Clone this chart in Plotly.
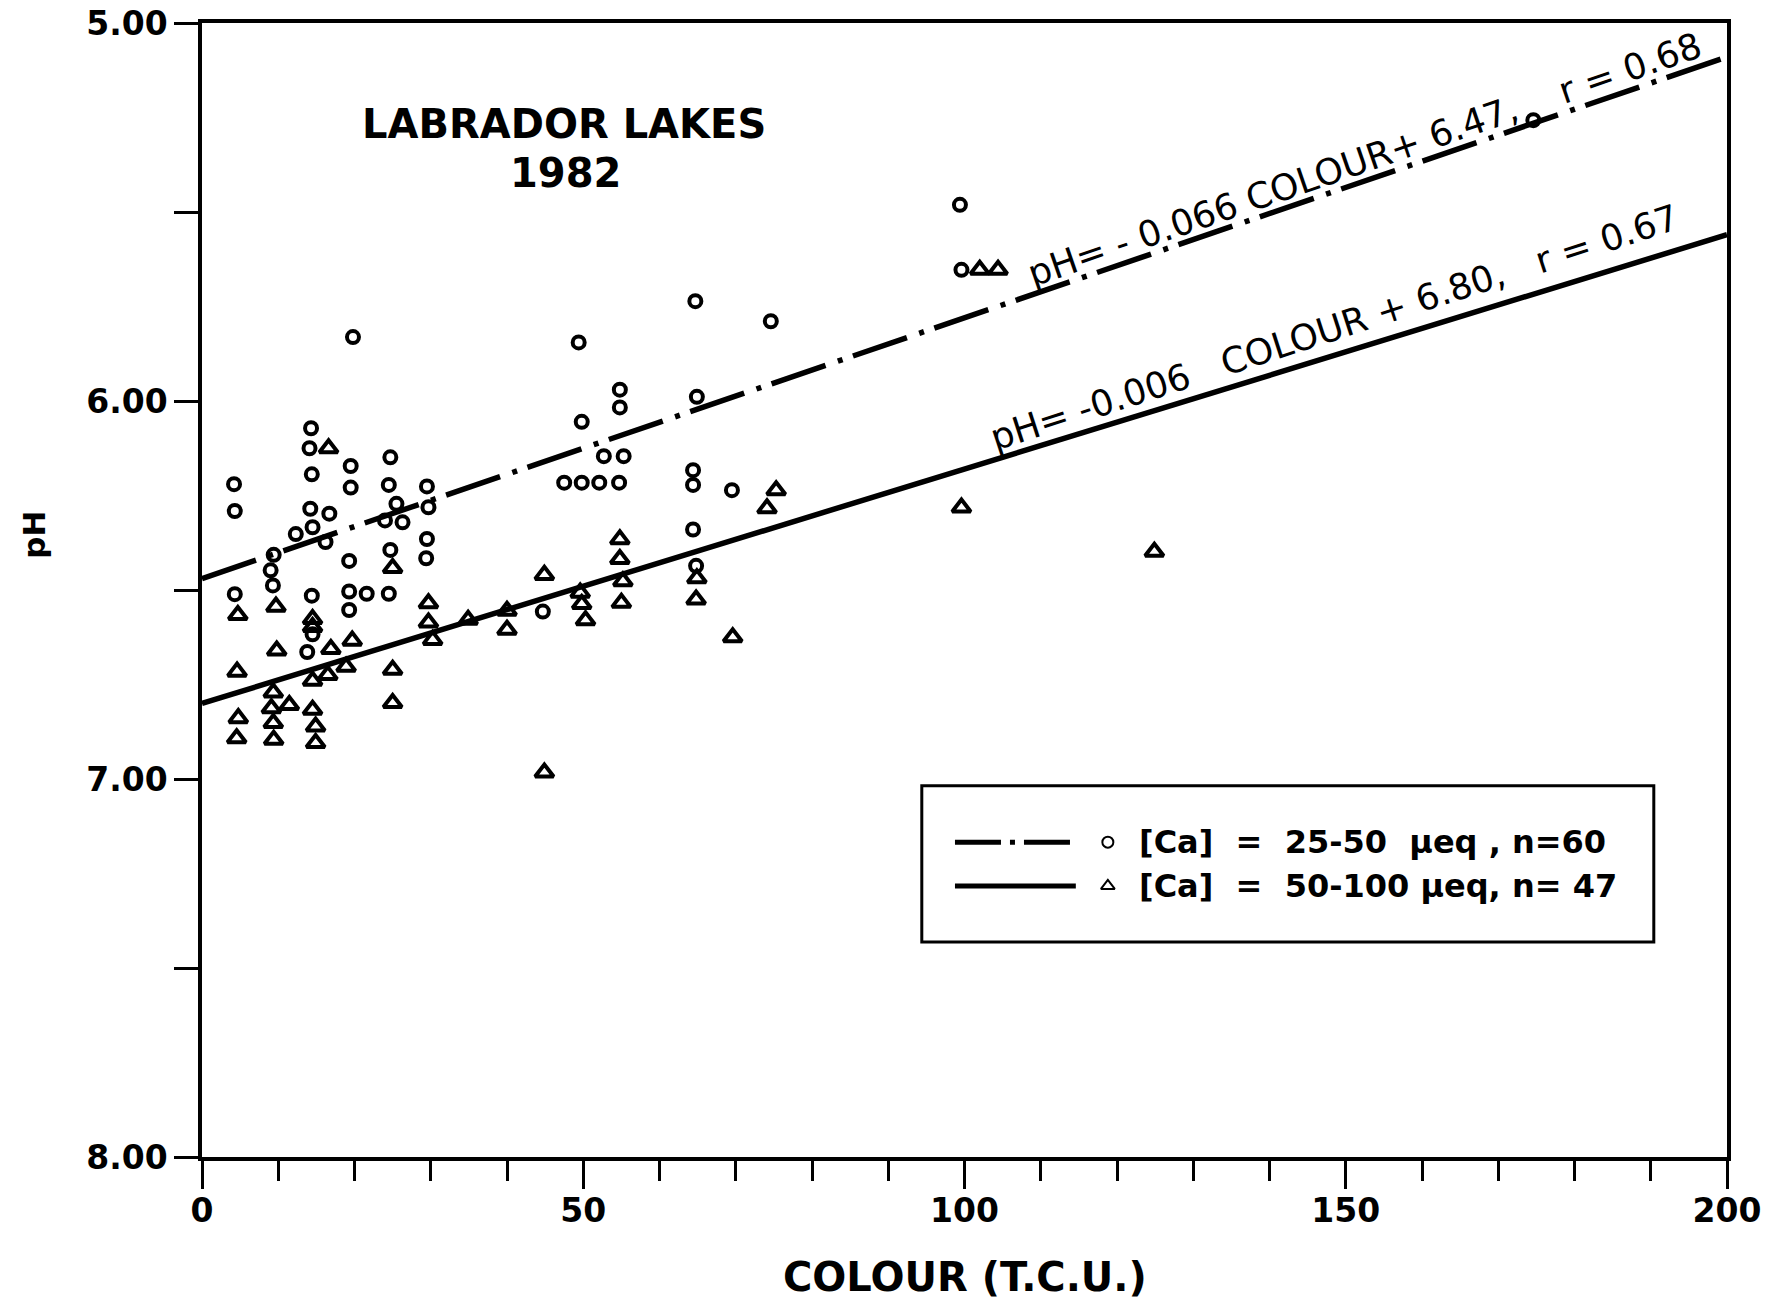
import plotly.graph_objects as go

# ---- Lakes with [Ca] = 25-50 ueq (open circles) ----
ca_low_colour = [
    4.2, 4.3, 4.3,
    9.4, 9.0, 9.3,
    12.3,
    14.3, 14.1, 14.4, 14.2, 14.5, 14.4, 14.5, 13.8,
    16.7, 16.2,
    19.8, 19.5, 19.5, 19.3, 19.3, 19.3,
    21.6,
    24.7, 24.5, 24.0, 24.7, 24.5,
    25.5, 26.3,
    29.5, 29.7, 29.5, 29.4,
    44.7,
    47.5, 49.8, 52.1, 54.7,
    52.7, 55.3,
    49.8, 54.8, 54.8, 49.4,
    64.7, 64.9, 64.4, 64.4, 64.4, 64.8,
    69.5, 74.6,
    99.4, 99.6, 174.6,
]
ca_low_ph = [
    6.220, 6.291, 6.511,
    6.407, 6.448, 6.488,
    6.352,
    6.072, 6.125, 6.194, 6.285, 6.334, 6.515, 6.617, 6.664,
    6.298, 6.373,
    5.831, 6.172, 6.229, 6.423, 6.504, 6.553,
    6.510,
    6.149, 6.222, 6.316, 6.394, 6.510,
    6.272, 6.321,
    6.226, 6.281, 6.365, 6.416,
    6.557,
    6.216, 6.216, 6.216, 6.216,
    6.146, 6.146,
    6.055, 5.970, 6.017, 5.845,
    5.736, 5.989, 6.183, 6.222, 6.340, 6.436,
    6.236, 5.789,
    5.481, 5.653, 5.257,
]

# ---- Lakes with [Ca] = 50-100 ueq (open triangles) ----
ca_high_colour = [
    16.6, 4.7, 9.7, 25.0, 9.8, 4.6, 14.5, 14.5, 16.9, 19.7,
    18.9, 16.5, 14.5, 25.0, 25.0, 29.7, 29.7, 30.25, 9.35, 9.1,
    11.45, 9.35, 9.4, 4.76, 4.55, 14.5, 14.9, 14.9, 34.9, 40.0,
    40.0, 44.9, 44.9, 49.6, 49.8, 50.3, 54.8, 54.8, 55.2, 55.0,
    75.3, 74.1, 99.6, 64.9, 64.8, 69.6, 102.0, 104.4, 124.9,
]
ca_high_ph = [
    6.125, 6.566, 6.544, 6.442, 6.660, 6.716, 6.577, 6.598, 6.656, 6.634,
    6.703, 6.725, 6.740, 6.711, 6.799, 6.535, 6.586, 6.632, 6.771, 6.813,
    6.804, 6.852, 6.896, 6.839, 6.892, 6.817, 6.861, 6.905, 6.579, 6.555,
    6.605, 6.460, 6.983, 6.507, 6.537, 6.580, 6.366, 6.418, 6.477, 6.534,
    6.236, 6.284, 6.282, 6.469, 6.525, 6.625, 5.653, 5.653, 6.399,
]

# ---- Regression lines: pH = intercept + slope * colour ----
fit_intercepts = [6.47, 6.80]
fit_slopes = [-0.0069, -0.0062]
fit_x = [0, 200]
fit_dash = ["57px,13px,5px,11px", "solid"]
fit_labels = [
    "pH=\u00a0-\u00a00.066 COLOUR+\u00a06.47,\u00a0\u00a0\u00a0 r\u00a0=\u00a00.68",
    "pH=\u00a0-0.006\u00a0\u00a0 COLOUR\u00a0+\u00a06.80,\u00a0\u00a0 r\u00a0=\u00a00.67",
]
fit_label_pos = [(152.5, 5.362), (148.5, 5.805)]
fit_label_angle = [-19.0, -18.0]

legend_texts = [
    "[Ca]\u00a0\u00a0=\u00a0\u00a025-50\u00a0\u00a0\u00b5eq\u00a0,\u00a0n=60",
    "[Ca]\u00a0\u00a0=\u00a0\u00a050-100\u00a0\u00b5eq,\u00a0n=\u00a047",
]

INK = "black"
BOLD = dict(family="DejaVu Sans", color=INK, weight="bold")

fig = go.Figure()

for b, m, dash in zip(fit_intercepts, fit_slopes, fit_dash):
    fig.add_trace(go.Scatter(
        x=fit_x, y=[b + m * x for x in fit_x], mode="lines",
        line=dict(color=INK, width=5.5, dash=dash),
        showlegend=False, hoverinfo="skip",
    ))

fig.add_trace(go.Scatter(
    x=ca_low_colour, y=ca_low_ph, mode="markers",
    marker=dict(symbol="circle-open", size=12, color=INK, line=dict(width=4, color=INK)),
    showlegend=False,
))
fig.add_trace(go.Scatter(
    x=ca_high_colour, y=ca_high_ph, mode="markers",
    marker=dict(symbol="triangle-up-open", size=16, color=INK, line=dict(width=4, color=INK)),
    showlegend=False,
))

# ---- key box (drawn by hand) ----
key_x0, key_x1, key_y0, key_y1 = 94.4, 190.4, 7.018, 7.431
key_rows = [7.167, 7.283]
key_line_x = (98.75, 114.6)
key_sym_x = 118.8
key_text_x = 122.6

shapes = [dict(type="rect", xref="x", yref="y", x0=key_x0, x1=key_x1, y0=key_y0, y1=key_y1,
               line=dict(color=INK, width=3), fillcolor="white", layer="below")]
for row, dash in zip(key_rows, ["46px,9px,5px,9px", "solid"]):
    shapes.append(dict(type="line", xref="x", yref="y", x0=key_line_x[0], x1=key_line_x[1],
                       y0=row, y1=row, line=dict(color=INK, width=5, dash=dash)))

fig.add_trace(go.Scatter(
    x=[key_sym_x], y=[key_rows[0]], mode="markers",
    marker=dict(symbol="circle-open", size=11, color=INK, line=dict(width=2, color=INK)),
    showlegend=False, hoverinfo="skip",
))
fig.add_trace(go.Scatter(
    x=[key_sym_x], y=[key_rows[1]], mode="markers",
    marker=dict(symbol="triangle-up-open", size=12, color=INK, line=dict(width=2, color=INK)),
    showlegend=False, hoverinfo="skip",
))

annotations = [
    dict(x=47.5, y=5.267, xref="x", yref="y", text="LABRADOR LAKES", showarrow=False,
         xanchor="center", yanchor="middle", font=dict(size=40, **BOLD)),
    dict(x=47.7, y=5.397, xref="x", yref="y", text="1982", showarrow=False,
         xanchor="center", yanchor="middle", font=dict(size=40, **BOLD)),
    dict(x=-0.110, y=0.549, xref="paper", yref="paper", text="pH", textangle=-90,
         xanchor="center", yanchor="middle", showarrow=False, font=dict(size=31, **BOLD)),
    dict(x=0.5, y=-0.106, xref="paper", yref="paper", text="COLOUR (T.C.U.)",
         xanchor="center", yanchor="middle", showarrow=False, font=dict(size=40, **BOLD)),
]
for txt, (ax, ay), ang in zip(fit_labels, fit_label_pos, fit_label_angle):
    annotations.append(dict(x=ax, y=ay, xref="x", yref="y", text=txt, textangle=ang,
                            xanchor="center", yanchor="middle", showarrow=False,
                            font=dict(family="DejaVu Sans", size=36, color=INK)))
for txt, row in zip(legend_texts, key_rows):
    annotations.append(dict(x=key_text_x, y=row, xref="x", yref="y", text=txt,
                            xanchor="left", yanchor="middle", showarrow=False,
                            font=dict(size=32, **BOLD)))

axis_common = dict(
    showline=True, linecolor=INK, linewidth=3.5, mirror=True,
    ticks="outside", tickcolor=INK, tickwidth=3,
    showgrid=False, zeroline=False, automargin=False,
    tickfont=dict(size=33, **BOLD),
)

fig.update_layout(
    width=1779, height=1306,
    margin=dict(l=202, r=52, t=23, b=149),
    paper_bgcolor="white", plot_bgcolor="white",
    showlegend=False,
    shapes=shapes,
    annotations=annotations,
    xaxis=dict(range=[0, 200], tick0=0, dtick=50, ticklen=28, ticklabelstandoff=-6,
               minor=dict(dtick=10, ticklen=20, tickwidth=3, tickcolor=INK, ticks="outside"),
               **axis_common),
    yaxis=dict(range=[8, 5], tick0=5, dtick=1, tickformat=".2f", ticklen=24, ticklabelstandoff=0,
               minor=dict(dtick=0.5, ticklen=24, tickwidth=3, tickcolor=INK, ticks="outside"),
               **axis_common),
)

fig.write_html("out.html")
